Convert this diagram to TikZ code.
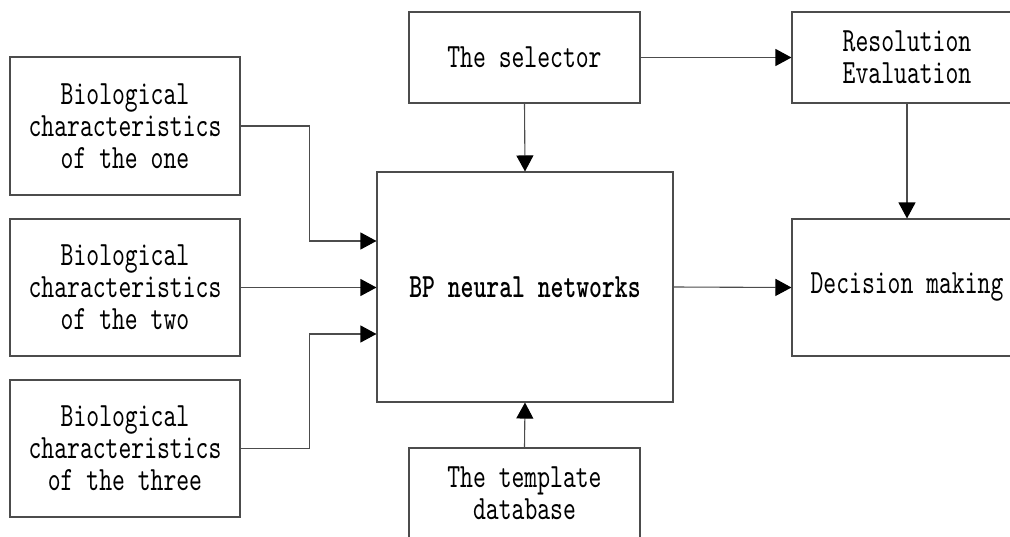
\documentclass[tikz,border=0pt]{standalone}
\usepackage{fontspec}
\newfontfamily\diagfont{lmmono10-regular.otf}[FakeStretch=0.72, BoldFont=lmmonolt10-bold.otf]
\usetikzlibrary{arrows.meta}
\definecolor{linegray}{gray}{0.3}
\tikzset{
  box/.style={draw=linegray, line width=1.1pt, inner sep=0pt, align=center,
    font=\diagfont\fontsize{34}{32}\selectfont},
  arr/.style={draw=linegray, line width=1.1pt, -{Triangle[length=16pt,width=17pt,color=black]}}
}
\begin{document}
\begin{tikzpicture}[x=1pt,y=-1pt]
\useasboundingbox (0,0) rectangle (1010,536);
\clip (0,0) rectangle (1010,536);
\fill[white] (0,0) rectangle (1010,536);
\node[box, minimum width=230pt, minimum height=138pt] (bio1) at (125,126) {Biological\\characteristics\\of the one};
\node[box, minimum width=230pt, minimum height=137pt] (bio2) at (125,287.5) {Biological\\characteristics\\of the two};
\node[box, minimum width=230pt, minimum height=137pt] (bio3) at (125,448.5) {Biological\\characteristics\\of the three};
\node[box, minimum width=231pt, minimum height=91pt] (sel) at (524.5,57.5) {The selector};
\node[box, minimum width=230pt, minimum height=91pt] (res) at (907,57.5) {Resolution\\Evaluation};
\node[box, minimum width=296pt, minimum height=230pt, font=\diagfont\bfseries\fontsize{34}{32}\selectfont] (bp) at (525,287) {BP neural networks};
\node[box, minimum width=230pt, minimum height=137pt] (dec) at (907,287.5) {Decision making};
\node[box, minimum width=231pt, minimum height=90pt] (tmp) at (524.5,493) {The template\\database};
\draw[arr] (bio1.east) -- ++(69,0) |- ([yshift=46pt]bp.west);
\draw[arr] (bio2.east) -- (bp.west |- bio2.east);
\draw[arr] (bio3.east) -- ++(69,0) |- ([yshift=-47pt]bp.west);
\draw[arr] (sel.south) -- (bp.north);
\draw[arr] (sel.east) -- (res.west);
\draw[arr] (res.south) -- (dec.north);
\draw[arr] (bp.east) -- (dec.west);
\draw[arr] (tmp.north) -- (bp.south);
\end{tikzpicture}
\end{document}
